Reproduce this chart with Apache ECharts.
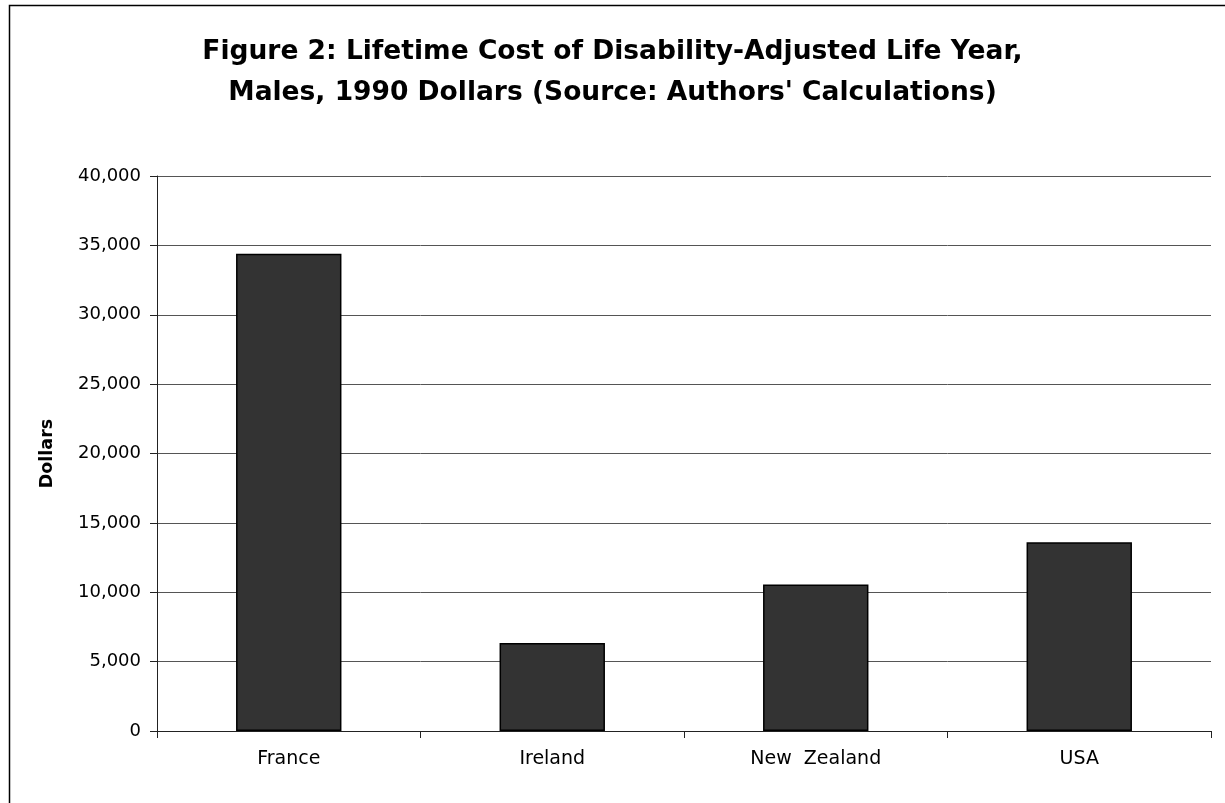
<!DOCTYPE html>
<html>
<head>
<meta charset="utf-8">
<script src="https://cdn.jsdelivr.net/npm/echarts@6/dist/echarts.min.js"></script>
<style>
html,body{margin:0;padding:0;background:#fff;}
#chart{width:1225px;height:803px;}
</style>
</head>
<body>
<div id="chart"></div>
<script>
const titleText = "Figure 2: Lifetime Cost of Disability-Adjusted Life Year,\nMales, 1990 Dollars (Source: Authors' Calculations)";
const categories = ["France", "Ireland", "New  Zealand", "USA"];
const values = [34400, 6350, 10550, 13600];
const yTicks = [0, 5000, 10000, 15000, 20000, 25000, 30000, 35000, 40000];
const yAxisName = "Dollars";

const FONT = 'DejaVu Sans, Arial, sans-serif';
const chart = echarts.init(document.getElementById('chart'), null, {renderer: 'canvas'});
chart.setOption({
  backgroundColor: '#fff',
  animation: false,
  graphic: [{
    type: 'rect', left: 7, top: 3,
    shape: {width: 1400, height: 1000},
    style: {fill: 'none', stroke: '#000', lineWidth: 1.5},
    silent: true, z: 100
  }],
  title: {
    text: titleText,
    left: 'center', top: 27,
    textStyle: {fontFamily: FONT, fontWeight: 'bold', fontSize: 26.5, color: '#000', lineHeight: 41}
  },
  grid: {left: 157, right: 14, top: 176, bottom: 72, containLabel: false},
  xAxis: {
    type: 'category', data: categories,
    axisLine: {lineStyle: {color: '#222', width: 1}},
    axisTick: {show: true, length: 7, lineStyle: {color: '#222'}},
    axisLabel: {color: '#000', fontFamily: FONT, fontSize: 19, margin: 19}
  },
  yAxis: {
    type: 'value', min: 0, max: 40000, interval: 5000,
    name: yAxisName, nameLocation: 'middle', nameGap: 101,
    nameTextStyle: {fontFamily: FONT, fontWeight: 'bold', fontSize: 17.5, color: '#000'},
    axisLine: {show: true, lineStyle: {color: '#222', width: 1}},
    axisTick: {show: true, length: 7, lineStyle: {color: '#222'}},
    axisLabel: {color: '#000', fontFamily: FONT, fontSize: 18, margin: 16,
      formatter: v => yTicks.includes(v) ? v.toLocaleString('en-US') : ''},
    splitLine: {show: true, lineStyle: {color: '#555', width: 1}}
  },
  series: [{
    type: 'bar', data: values, barWidth: '40%',
    itemStyle: {color: '#333333', borderColor: '#000', borderWidth: 1.5}
  }]
});
</script>
</body>
</html>
